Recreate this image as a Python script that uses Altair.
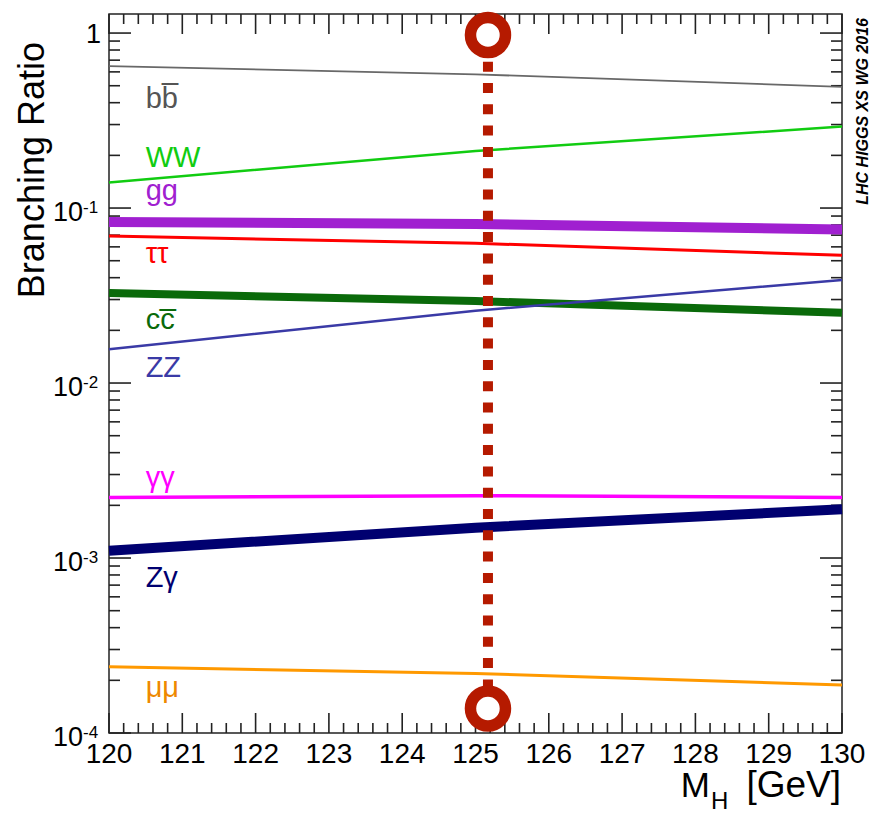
import math
import altair as alt
import pandas as pd

# ---------------- data ----------------
MH = [120.0, 125.0, 130.0]
BR_bb = [0.647, 0.581, 0.493]
BR_WW = [0.140, 0.212, 0.292]
BR_gg = [0.0832, 0.0810, 0.0755]
BR_tautau = [0.0692, 0.0629, 0.0537]
BR_cc = [0.0327, 0.0294, 0.0252]
BR_ZZ = [0.0156, 0.0259, 0.0388]
BR_gamgam = [0.00222, 0.00227, 0.00222]
BR_Zgam = [0.00110, 0.00149, 0.00190]
BR_mumu = [0.000239, 0.000219, 0.000188]

channel_names = ["b b\u0305", "WW", "gg", "ττ", "c c\u0305", "ZZ", "γγ", "Zγ", "μμ"]
channel_values = [BR_bb, BR_WW, BR_gg, BR_tautau, BR_cc, BR_ZZ, BR_gamgam, BR_Zgam, BR_mumu]

# label anchors (data units)
label_MH = 120.5
label_BR = [0.373, 0.172, 0.111, 0.0485, 0.0204, 0.0108, 0.00255, 0.000682, 0.000161]

# Higgs mass marker
marker_MH = 125.17
marker_top = 0.975
marker_bottom = 0.000138

x_tick_labels = ["120", "121", "122", "123", "124", "125", "126", "127", "128", "129", "130"]
y_decades = [1.0, 1e-1, 1e-2, 1e-3, 1e-4]
y_exponents = ["", "-1", "-2", "-3", "-4"]

# ---------------- styles ----------------
line_colors = ["#686868", "#11cc11", "#a020d0", "#ff0000", "#0a6a0a", "#3a3aa6", "#ff00ff", "#000070", "#ff9900"]
text_colors = ["#555555", "#11cc11", "#a020d0", "#ff0000", "#0a6a0a", "#3a3aa6", "#ff00ff", "#000070", "#ee8800"]
line_widths = [1.8, 2.5, 10, 3, 8, 2.5, 3.5, 10, 3]
RED = "#b51a00"
TICK = "#222222"
FONT = "Liberation Sans"

W, H = 733, 719
X_MIN, X_MAX = 120.0, 130.0
Y_MIN, Y_MAX = 1e-4, 1.285
xs = alt.Scale(domain=[X_MIN, X_MAX], nice=False, zero=False)
ys = alt.Scale(type="log", domain=[Y_MIN, Y_MAX], nice=False)
PX_PER_DEC = H / math.log10(Y_MAX / Y_MIN)
PX_PER_GEV = W / (X_MAX - X_MIN)


def X(f="MH"):
    return alt.X(f"{f}:Q", scale=xs, axis=None)


def Y(f="BR"):
    return alt.Y(f"{f}:Q", scale=ys, axis=None)


layers = []

# ticks (inward, on all four sides): each tick is a two-point line segment
x_major = [float(v) for v in x_tick_labels]
x_minor = [round(120 + 0.2 * i, 1) for i in range(51) if i % 5]
y_minor = [m * d for d in [1e-4, 1e-3, 1e-2, 1e-1] for m in range(2, 10)]

tick_rows = []
tid = 0


def add_tick(xa, ya, xb, yb):
    global tid
    tick_rows.append({"id": tid, "k": 0, "tx": xa, "ty": ya})
    tick_rows.append({"id": tid, "k": 1, "tx": xb, "ty": yb})
    tid += 1


for vals, ln in [(x_major, 20), (x_minor, 10)]:
    f = 10 ** (ln / PX_PER_DEC)
    for v in vals:
        add_tick(v, Y_MIN, v, Y_MIN * f)
        add_tick(v, Y_MAX / f, v, Y_MAX)
for vals, ln in [(y_decades, 22), (y_minor, 11)]:
    dxv = ln / PX_PER_GEV
    for v in vals:
        add_tick(X_MIN, v, X_MIN + dxv, v)
        add_tick(X_MAX - dxv, v, X_MAX, v)
dticks = pd.DataFrame(tick_rows)
layers.append(alt.Chart(dticks).mark_line(color=TICK, strokeWidth=1.6).encode(
    x=X("tx"), y=Y("ty"), detail="id:N", order="k:Q"))

# channel lines and labels
for name, vals, lc, tc, lw, lb in zip(channel_names, channel_values, line_colors,
                                      text_colors, line_widths, label_BR):
    df = pd.DataFrame({"MH": MH, "BR": vals})
    layers.append(alt.Chart(df).mark_line(color=lc, strokeWidth=lw, strokeCap="butt").encode(
        x=X(), y=Y()))
    dl = pd.DataFrame({"MH": [label_MH], "BR": [lb], "t": [name.replace(" ", "")]})
    layers.append(alt.Chart(dl).mark_text(align="left", baseline="alphabetic", fontSize=29,
                                          font=FONT, color=tc).encode(
        x=X(), y=Y(), text="t:N"))

# Higgs mass marker
dm = pd.DataFrame({"MH": [marker_MH], "top": [marker_top], "bot": [marker_bottom]})
layers.append(alt.Chart(dm).mark_rule(color=RED, strokeWidth=10, strokeDash=[10, 11.3],
                                      strokeDashOffset=15.9, strokeCap="butt").encode(
    x=X(), y=Y("top"), y2=alt.Y2("bot:Q")))
dc = pd.DataFrame({"MH": [marker_MH, marker_MH], "BR": [marker_top, marker_bottom]})
layers.append(alt.Chart(dc).mark_point(shape="circle", size=1225, fill="white", fillOpacity=1,
                                       stroke=RED, strokeWidth=11.5, opacity=1).encode(
    x=X(), y=Y()))

# x tick labels
dxl = pd.DataFrame({"v": x_major, "t": x_tick_labels})
layers.append(alt.Chart(dxl).mark_text(fontSize=28, font=FONT, baseline="alphabetic",
                                       align="center", color="black").encode(
    x=X("v"), y=alt.value(H + 30), text="t:N"))

# y tick labels
dy1 = pd.DataFrame({"v": [y_decades[0]], "t": ["1"]})
layers.append(alt.Chart(dy1).mark_text(fontSize=27, font=FONT, baseline="alphabetic",
                                       align="right", dy=10, color="black").encode(
    x=alt.value(-8), y=Y("v"), text="t:N"))
dy10 = pd.DataFrame({"v": y_decades[1:], "t": ["10"] * 4, "e": y_exponents[1:]})
layers.append(alt.Chart(dy10).mark_text(fontSize=27, font=FONT, baseline="alphabetic",
                                        align="right", dy=13, color="black").encode(
    x=alt.value(-26), y=Y("v"), text="t:N"))
layers.append(alt.Chart(dy10).mark_text(fontSize=17, font=FONT, baseline="alphabetic",
                                        align="left", dy=5, color="black").encode(
    x=alt.value(-26), y=Y("v"), text="e:N"))

# titles
one = pd.DataFrame({"a": [0]})
layers.append(alt.Chart(one).mark_text(text="Branching Ratio", fontSize=36, font=FONT,
                                       angle=270, align="right", baseline="alphabetic",
                                       color="black").encode(
    x=alt.value(-65), y=alt.value(28)))
layers.append(alt.Chart(one).mark_text(text="LHC HIGGS XS WG 2016", fontSize=16, font=FONT,
                                       fontStyle="italic", fontWeight="bold",
                                       angle=270, align="right", baseline="alphabetic",
                                       color="black").encode(
    x=alt.value(759), y=alt.value(4)))
layers.append(alt.Chart(one).mark_text(text="M", fontSize=35, font=FONT, align="right",
                                       baseline="alphabetic", color="black").encode(
    x=alt.value(601), y=alt.value(783)))
layers.append(alt.Chart(one).mark_text(text="H", fontSize=24, font=FONT, align="left",
                                       baseline="alphabetic", color="black").encode(
    x=alt.value(602), y=alt.value(795)))
layers.append(alt.Chart(one).mark_text(text="[GeV]", fontSize=37, font=FONT, align="right",
                                       baseline="alphabetic", color="black").encode(
    x=alt.value(732), y=alt.value(783)))

chart = alt.layer(*layers).properties(
    width=W, height=H,
    autosize=alt.AutoSizeParams(type="none"),
    padding={"left": 109, "top": 14, "right": 29, "bottom": 81},
    background="white",
).configure_view(stroke="#222222", strokeWidth=1.5)

chart.save("out.html", embed_options={"renderer": "svg", "actions": False})
